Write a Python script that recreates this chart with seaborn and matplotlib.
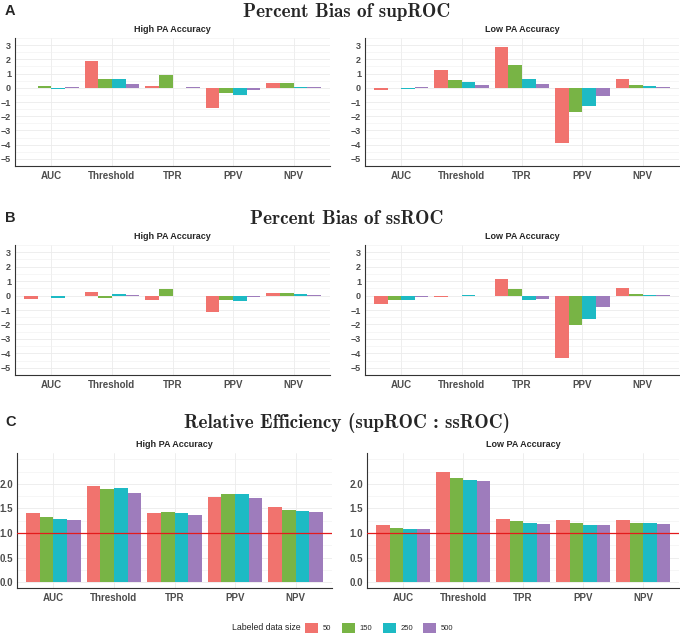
import numpy as np
import pandas as pd
import seaborn as sns
import matplotlib.pyplot as plt
from matplotlib.patches import Patch

metrics = ["AUC", "Threshold", "TPR", "PPV", "NPV"]
sizes = ["50", "150", "250", "500"]
colors = ["#F1736E", "#78B445", "#1DBAC4", "#9E7CBC"]

# one row per labeled data size, one column per metric
sup_high = [[0.01, 1.90, 0.15, -1.45, 0.32],
            [0.10, 0.62, 0.90, -0.38, 0.33],
            [-0.08, 0.65, -0.03, -0.50, 0.08],
            [0.02, 0.25, 0.03, -0.15, 0.02]]
sup_low = [[-0.18, 1.25, 2.90, -3.85, 0.62],
           [-0.03, 0.58, 1.60, -1.68, 0.18],
           [-0.10, 0.40, 0.60, -1.30, 0.12],
           [0.02, 0.18, 0.30, -0.58, 0.02]]
ss_high = [[-0.22, 0.22, -0.32, -1.15, 0.15],
           [-0.05, -0.15, 0.42, -0.30, 0.20],
           [-0.15, 0.08, -0.02, -0.35, 0.08],
           [-0.05, 0.01, -0.01, -0.08, 0.01]]
ss_low = [[-0.55, -0.12, 1.12, -4.35, 0.52],
          [-0.28, -0.05, 0.45, -2.05, 0.10],
          [-0.30, 0.05, -0.32, -1.60, 0.06],
          [-0.12, -0.02, -0.22, -0.80, 0.01]]
re_high = [[1.40, 1.96, 1.41, 1.73, 1.52],
           [1.32, 1.89, 1.42, 1.80, 1.47],
           [1.28, 1.91, 1.40, 1.79, 1.45],
           [1.26, 1.82, 1.36, 1.72, 1.42]]
re_low = [[1.16, 2.24, 1.29, 1.27, 1.26],
          [1.11, 2.12, 1.24, 1.20, 1.21],
          [1.09, 2.08, 1.21, 1.17, 1.20],
          [1.08, 2.05, 1.18, 1.16, 1.18]]

sns.set_theme(style="white")
plt.rcParams['font.family'] = ['Liberation Sans', 'DejaVu Sans']

W, H = 680, 635
fig = plt.figure(figsize=(6.8, 6.35), dpi=100)


def frame(values):
    rows = []
    for s, vals in zip(sizes, values):
        for m, v in zip(metrics, vals):
            rows.append({"metric": m, "size": s, "value": v})
    return pd.DataFrame(rows)


def fmt(t, dec):
    s = f"{abs(t):.{dec}f}"
    return ("\u2212" + s) if t < 0 else s


def panel(box, values, title, kind):
    x0, y0, x1, y1 = box
    ax = fig.add_axes([x0 / W, 1 - y1 / H, (x1 - x0) / W, (y1 - y0) / H])
    sns.barplot(data=frame(values), x="metric", y="value", hue="size",
                order=metrics, hue_order=sizes, palette=colors, width=0.9,
                saturation=1, legend=False, linewidth=0, zorder=2, ax=ax)
    if kind == "bias":
        ax.set_ylim(-5.4, 3.4)
        major = list(range(-5, 4))
        minor = [t + 0.5 for t in range(-6, 4)]
        ax.set_yticks(major)
        ax.set_yticklabels([fmt(t, 0) for t in major], fontweight='bold')
        ysize = 6.5
    else:
        ax.set_ylim(-0.12, 2.63)
        major = [0, 0.5, 1.0, 1.5, 2.0]
        minor = [0.25, 0.75, 1.25, 1.75, 2.25, 2.5]
        ax.set_yticks(major)
        ax.set_yticklabels([fmt(t, 1) for t in major], fontweight='bold')
        ax.axhline(1.0, color="#E41A1C", lw=0.9, zorder=3)
        ysize = 7
    ax.set_yticks(minor, minor=True)
    ax.set_xticks(range(len(metrics)))
    ax.set_xticklabels(metrics, fontweight='bold')
    ax.set_xlim(-0.6, 4.6)
    ax.set_xlabel("")
    ax.set_ylabel("")
    ax.grid(which='major', color='#EBEBEB', lw=0.6)
    ax.grid(which='minor', axis='y', color='#F1F1F1', lw=0.45)
    ax.set_axisbelow(True)
    for side in ["top", "right"]:
        ax.spines[side].set_visible(False)
    for side in ["left", "bottom"]:
        ax.spines[side].set_color('#333333')
        ax.spines[side].set_linewidth(0.8)
    ax.tick_params(which='major', length=2, width=0.6, color='#333333',
                   labelsize=7, labelcolor='#4D4D4D', pad=1.5)
    ax.tick_params(axis='y', which='major', labelsize=ysize, pad=0.8)
    ax.tick_params(which='minor', length=0)
    ax.set_title(title, fontsize=6.5, fontweight='bold', pad=4)
    return ax


panel((15, 38, 330, 166), sup_high, "High PA Accuracy", "bias")
panel((365, 38, 679, 166), sup_low, "Low PA Accuracy", "bias")
panel((15, 245, 330, 375), ss_high, "High PA Accuracy", "bias")
panel((365, 245, 679, 375), ss_low, "Low PA Accuracy", "bias")
panel((17, 453, 332, 588), re_high, "High PA Accuracy", "eff")
panel((367, 453, 679, 588), re_low, "Low PA Accuracy", "eff")

heads = [("A", 11, "Percent Bias of supROC"),
         ("B", 218, "Percent Bias of ssROC"),
         ("C", 422, "Relative Efficiency (supROC : ssROC)")]
for letter, y, text in heads:
    fig.text(5 / W, 1 - y / H, letter, fontsize=10.5, fontweight='bold',
             va='center', ha='left')
    fig.text(347 / W, 1 - (y + 1) / H, text, fontsize=13.8, family='cmb10',
             va='center', ha='center')

fig.text(232 / W, 1 - 628 / H, "Labeled data size", fontsize=6.3, va='center')
handles = [Patch(facecolor=c, edgecolor='none') for c in colors]
fig.legend(handles, sizes, loc='center left',
           bbox_to_anchor=(305 / W, 1 - 628 / H), ncol=4, frameon=False,
           fontsize=5.5, handlelength=1.7, handleheight=1.7,
           handletextpad=0.6, columnspacing=1.4, borderaxespad=0, borderpad=0)

fig.savefig("out.png", dpi=100)
